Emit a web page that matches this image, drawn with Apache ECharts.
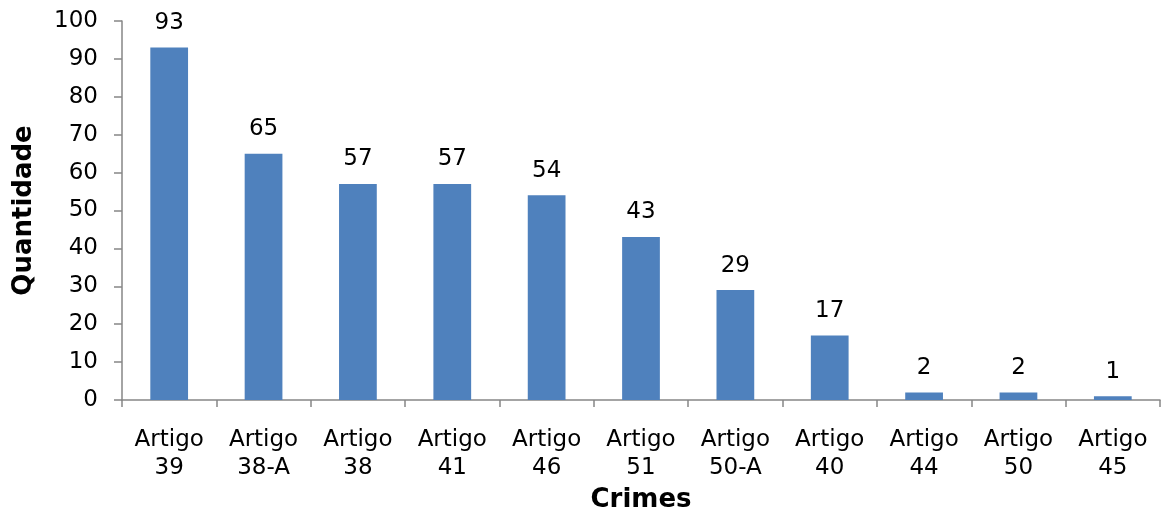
<!DOCTYPE html>
<html>
<head>
<meta charset="utf-8">
<script src="https://cdn.jsdelivr.net/npm/echarts@6/dist/echarts.min.js"></script>
<style>
  html, body { margin: 0; padding: 0; background: #fff; }
  #chart { width: 1161px; height: 511px; }
</style>
</head>
<body>
<div id="chart"></div>
<script>
// Crimes por artigo
const categories = ['Artigo\n39', 'Artigo\n38-A', 'Artigo\n38', 'Artigo\n41', 'Artigo\n46', 'Artigo\n51', 'Artigo\n50-A', 'Artigo\n40', 'Artigo\n44', 'Artigo\n50', 'Artigo\n45'];
const quantidade = [93, 65, 57, 57, 54, 43, 29, 17, 2, 2, 1];
const yTicks = { min: 0, max: 100, interval: 10 };

const font = 'DejaVu Sans, Verdana, sans-serif';
const axisColor = '#868686';

const chart = echarts.init(document.getElementById('chart'));
chart.setOption({
  animation: false,
  grid: { left: 122, right: 1, top: 21, bottom: 111, containLabel: false, outerBoundsMode: 'none' },
  xAxis: {
    type: 'category',
    data: categories,
    name: 'Crimes',
    nameLocation: 'middle',
    nameGap: 81,
    nameTextStyle: { fontFamily: font, fontSize: 26, fontWeight: 'bold', color: '#000' },
    axisLine: { lineStyle: { color: axisColor, width: 1.5 } },
    axisTick: { show: true, length: 7, alignWithLabel: false, lineStyle: { color: axisColor, width: 1.5 } },
    axisLabel: { fontFamily: font, fontSize: 23, color: '#000', margin: 26, lineHeight: 28, interval: 0 }
  },
  yAxis: {
    type: 'value',
    min: yTicks.min,
    max: yTicks.max,
    interval: yTicks.interval,
    name: 'Quantidade',
    nameLocation: 'middle',
    nameGap: 85,
    nameRotate: 90,
    nameTextStyle: { fontFamily: font, fontSize: 26, fontWeight: 'bold', color: '#000' },
    axisLine: { show: true, lineStyle: { color: axisColor, width: 1.5 } },
    axisTick: { show: true, length: 8, lineStyle: { color: axisColor, width: 1.5 } },
    axisLabel: { fontFamily: font, fontSize: 23, color: '#000', margin: 24 },
    splitLine: { show: false }
  },
  series: [{
    type: 'bar',
    data: quantidade,
    barWidth: '40%',
    itemStyle: { color: '#4F81BD' },
    label: { show: true, position: 'top', distance: 13, fontFamily: font, fontSize: 23, color: '#000' }
  }]
});
</script>
</body>
</html>
